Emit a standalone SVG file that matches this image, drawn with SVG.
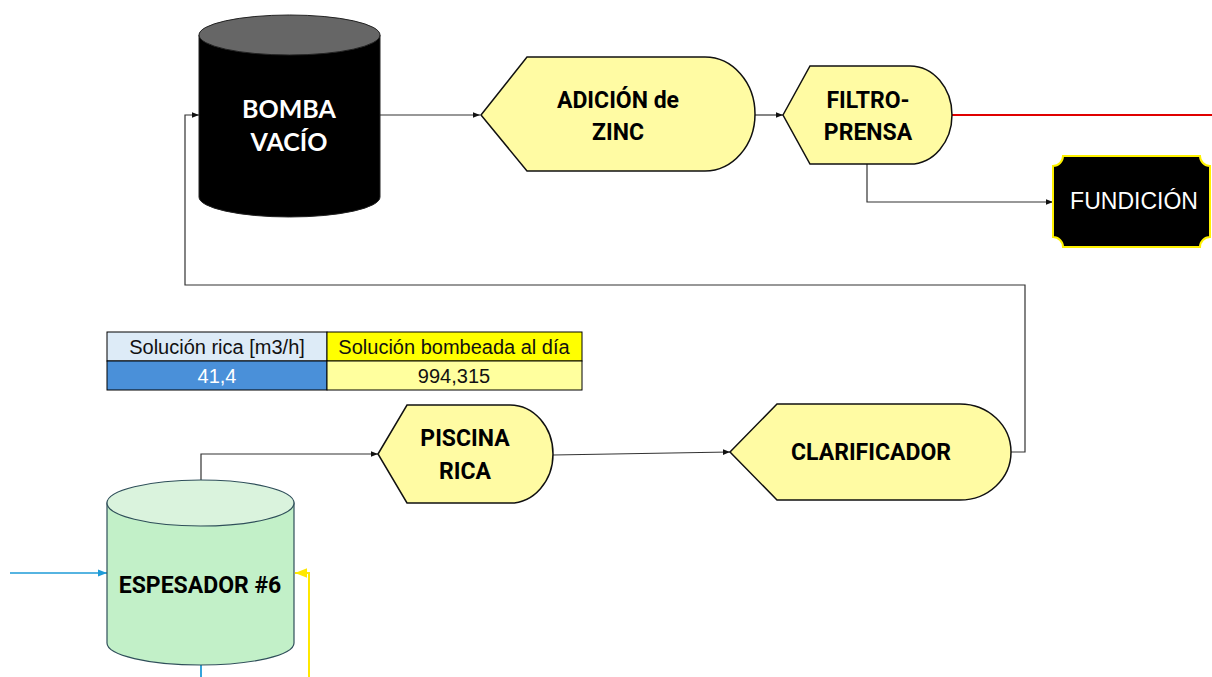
<svg xmlns="http://www.w3.org/2000/svg" width="1212" height="677" viewBox="0 0 1212 677">
<style>
.lbl{font-family:Roboto,"Liberation Sans",Arial,sans-serif;font-weight:bold;font-size:23px;fill:#000;text-anchor:middle}
.disp{fill:#FFFBA3;stroke:#111;stroke-width:1.5}
.con{fill:none;stroke:#333;stroke-width:1.2}
.tbl{font-family:"Liberation Sans",Arial,sans-serif;font-size:20px;text-anchor:middle}
</style>
<defs>
<marker id="ar" viewBox="0 0 10 10" refX="10" refY="5" markerWidth="6" markerHeight="6" orient="auto"><path d="M0,1 L10,5 L0,9 Z" fill="#111"/></marker>
<marker id="arB" viewBox="0 0 10 10" refX="10" refY="5" markerWidth="6" markerHeight="6" orient="auto"><path d="M0,1 L10,5 L0,9 Z" fill="#1E9BD7"/></marker>
<marker id="arY" viewBox="0 0 10 10" refX="10" refY="5" markerWidth="6" markerHeight="6" orient="auto"><path d="M0,1 L10,5 L0,9 Z" fill="#FFE800"/></marker>
</defs>

<g id="connectors">
<path class="con" d="M380,115 L480,115" marker-end="url(#ar)"/>
<path class="con" d="M755,115 L783,115" marker-end="url(#ar)"/>
<path d="M952,115 L1212,115" fill="none" stroke="#E00000" stroke-width="1.8"/>
<path class="con" d="M867,164 L867,202 L1053,202" marker-end="url(#ar)"/>
<path class="con" d="M1011,452 L1025,452 L1025,285 L185,285 L185,115 L199,115" marker-end="url(#ar)"/>
<path class="con" d="M553,455 L730,452" marker-end="url(#ar)"/>
<path class="con" d="M201,480 L201,454 L378,454" marker-end="url(#ar)"/>
<path d="M10,573 L107,573" fill="none" stroke="#1E9BD7" stroke-width="1.5" marker-end="url(#arB)"/>
<path d="M201,665 L201,677" fill="none" stroke="#1E9BD7" stroke-width="1.8"/>
<path d="M309,677 L309,573 L295,573" fill="none" stroke="#FFE800" stroke-width="2" marker-end="url(#arY)"/>
</g>

<g id="bomba-vacio">
<path d="M199,35 L199,197 A90.5,20 0 0 0 380,197 L380,35 Z" fill="#000" stroke="#222" stroke-width="1"/>
<ellipse cx="289.5" cy="35" rx="90.5" ry="20" fill="#666" stroke="#222" stroke-width="1"/>
<text x="289" y="118" font-family="Lato,'DejaVu Sans',sans-serif" font-weight="bold" font-size="25" fill="#fff" text-anchor="middle">BOMBA</text>
<text x="289" y="151" font-family="Lato,'DejaVu Sans',sans-serif" font-weight="bold" font-size="25" fill="#fff" text-anchor="middle">VACÍO</text>
</g>

<g id="adicion-zinc">
<path class="disp" d="M481,115 L527,57 L705,57 A50,57 0 0 1 705,171 L527,171 Z"/>
<text class="lbl" x="618" y="108">ADICIÓN de</text>
<text class="lbl" x="618" y="140">ZINC</text>
</g>

<g id="filtro-prensa">
<path class="disp" d="M783,115 L810,66 L910,66 A42,49 0 0 1 910,164 L810,164 Z"/>
<text class="lbl" x="868" y="108">FILTRO-</text>
<text class="lbl" x="868" y="140">PRENSA</text>
</g>

<g id="fundicion">
<path d="M1063,156 L1200,156 A10,10 0 0 0 1210,166 L1210,237 A10,10 0 0 0 1200,247 L1063,247 A10,10 0 0 0 1053,237 L1053,166 A10,10 0 0 0 1063,156 Z" fill="#000" stroke="#FFF200" stroke-width="2"/>
<text x="1134" y="209" font-family="'Liberation Sans',Arial,sans-serif" font-size="23" fill="#fff" text-anchor="middle">FUNDICIÓN</text>
</g>

<g id="tabla">
<rect x="107" y="332" width="220" height="29" fill="#DDEBF7" stroke="#000" stroke-width="1"/>
<rect x="327" y="332" width="255" height="29" fill="#FFFF00" stroke="#000" stroke-width="1"/>
<rect x="107" y="361" width="220" height="29" fill="#4A90D9" stroke="#000" stroke-width="1"/>
<rect x="327" y="361" width="255" height="29" fill="#FFFF9E" stroke="#000" stroke-width="1"/>
<text class="tbl" x="217" y="354" fill="#111">Solución rica [m3/h]</text>
<text class="tbl" x="454" y="354" fill="#111">Solución bombeada al día</text>
<text class="tbl" x="217" y="383" fill="#fff">41,4</text>
<text class="tbl" x="454" y="383" fill="#111">994,315</text>
</g>

<g id="piscina-rica">
<path class="disp" d="M378,454 L407,405 L510,405 A43,49 0 0 1 510,503 L407,503 Z"/>
<text class="lbl" x="465" y="446">PISCINA</text>
<text class="lbl" x="465" y="479">RICA</text>
</g>

<g id="clarificador">
<path class="disp" d="M730,452 L777,404 L960,404 A51,48 0 0 1 960,500 L777,500 Z"/>
<text class="lbl" x="871" y="460">CLARIFICADOR</text>
</g>

<g id="espesador-6">
<path d="M107,503 L107,643 A93.5,22 0 0 0 294,643 L294,503 Z" fill="#C2F0C8" stroke="#2F4F5A" stroke-width="1.2"/>
<ellipse cx="200.5" cy="503" rx="93.5" ry="23" fill="#DAF3DD" stroke="#2F4F5A" stroke-width="1.2"/>
<text class="lbl" x="200" y="593">ESPESADOR #6</text>
</g>
</svg>
